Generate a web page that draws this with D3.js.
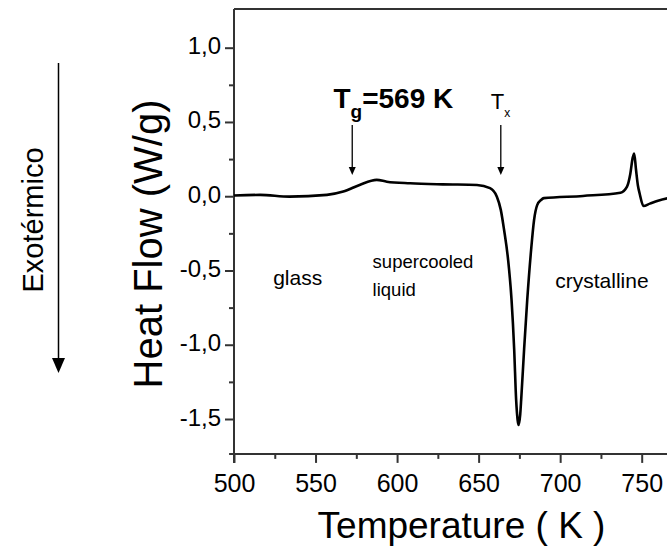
<!DOCTYPE html>
<html>
<head>
<meta charset="utf-8">
<script src="https://cdn.jsdelivr.net/npm/d3@7"></script>
<style>
  html, body { margin: 0; padding: 0; background: #fff; }
  svg { display: block; font-family: "Liberation Sans", Arial, sans-serif; }
</style>
</head>
<body>
<svg id="chart" width="667" height="548"></svg>
<script>
// ---- data ----
const temps = [500, 516, 534, 557, 567, 577, 587.5, 593.7, 608, 628, 649, 657, 661.2, 663.6, 665.6, 668.1, 670.2, 671.8, 673.0, 673.9, 674.5, 675.5, 676.1, 677.9, 679.8, 682.2, 684.0, 685.9, 688.3, 690, 714, 737, 741, 743, 744.5, 745.4, 746.5, 747.7, 748.7, 751.1, 755, 760, 766, 770];
const heatFlow = [0.005, 0.009, -0.003, 0.009, 0.031, 0.076, 0.11, 0.098, 0.087, 0.08, 0.076, 0.054, -0.003, -0.092, -0.226, -0.43, -0.70, -1.03, -1.37, -1.505, -1.54, -1.47, -1.37, -1.03, -0.70, -0.36, -0.16, -0.06, -0.025, -0.013, 0.002, 0.024, 0.065, 0.15, 0.26, 0.288, 0.18, 0.07, 0.02, -0.066, -0.05, -0.03, -0.013, -0.005];
const xMajorTicks = [500, 550, 600, 650, 700, 750];
const xMinorTicks = [525, 575, 625, 675, 725, 775];
const yMajorTicks = [1.0, 0.5, 0.0, -0.5, -1.0, -1.5];
const yMinorTicks = [0.75, 0.25, -0.25, -0.75, -1.25];
const regionLabels = [
  { lines: ["glass"], T: 524, v: -0.6, size: 21 },
  { lines: ["supercooled", "liquid"], T: 585, v: -0.48, size: 18.5 },
  { lines: ["crystalline"], T: 697, v: -0.62, size: 21 }
];
const arrowsT = [572.5, 663.6];

// ---- scales ----
const svg = d3.select("#chart");
const x = d3.scaleLinear().domain([500, 750]).range([234, 641.7]);
const y = d3.scaleLinear().domain([1.0, -1.5]).range([47.7, 419]);
const xMax = 780, yTop = 1.26, yBot = -1.735;

const fmt = v => d3.format(".1f")(v).replace("−", "-").replace(".", ",");

svg.append("rect").attr("width", 667).attr("height", 548).attr("fill", "#fff");

// frame (top border; right border lies beyond the picture)
svg.append("path")
  .attr("d", `M${x(500)},${y(yTop)} H${x(xMax)} V${y(yBot)}`)
  .attr("fill", "none").attr("stroke", "#333").attr("stroke-width", 2);

// x axis
const gx = svg.append("g").attr("transform", `translate(0,${y(yBot)})`);
gx.call(d3.axisBottom(x).tickValues(xMajorTicks).tickSize(9).tickSizeOuter(0).tickPadding(11).tickFormat(d3.format("d")));
gx.append("g").call(d3.axisBottom(x).tickValues(xMinorTicks).tickSize(5).tickFormat(""))
  .select(".domain").remove();
gx.select(".domain").attr("d", `M${x(497)},0H${x(xMax)}`);
gx.selectAll("line").attr("stroke", "#333").attr("stroke-width", 2);
gx.selectAll(".domain").attr("stroke", "#333").attr("stroke-width", 2);
gx.selectAll("text").attr("font-size", 25).attr("fill", "#000").attr("font-family", "Liberation Sans, Arial, sans-serif");

// y axis
const gy = svg.append("g").attr("transform", `translate(${x(500)},0)`);
gy.call(d3.axisLeft(y).tickValues(yMajorTicks).tickSize(9).tickSizeOuter(0).tickPadding(4).tickFormat(fmt));
gy.append("g").call(d3.axisLeft(y).tickValues(yMinorTicks).tickSize(5).tickFormat(""))
  .select(".domain").remove();
gy.select(".domain").attr("d", `M0,${y(yTop)}V${y(yBot) + 9}`);
gy.selectAll("line").attr("stroke", "#333").attr("stroke-width", 2);
gy.selectAll(".domain").attr("stroke", "#333").attr("stroke-width", 2);
gy.selectAll("text").attr("font-size", 24).attr("fill", "#000").attr("dy", "0.25em")
  .attr("font-family", "Liberation Sans, Arial, sans-serif");

// curve
svg.append("defs").append("clipPath").attr("id", "clip")
  .append("rect").attr("x", x(500)).attr("y", y(yTop)).attr("width", x(xMax) - x(500)).attr("height", y(yBot) - y(yTop));
const line = d3.line().x((d, i) => x(temps[i])).y((d, i) => y(heatFlow[i])).curve(d3.curveMonotoneX);
svg.append("path").datum(heatFlow).attr("clip-path", "url(#clip)")
  .attr("d", line).attr("fill", "none").attr("stroke", "#000").attr("stroke-width", 2.6).attr("stroke-linejoin", "round");

// annotation arrows (Tg, Tx)
arrowsT.forEach(T => {
  const xx = x(T), y0 = y(0.48), y1 = y(0.143);
  svg.append("line").attr("x1", xx).attr("x2", xx).attr("y1", y0).attr("y2", y1 - 7)
    .attr("stroke", "#000").attr("stroke-width", 1.3);
  svg.append("path").attr("d", `M${xx - 3.5},${y1 - 8}L${xx + 3.5},${y1 - 8}L${xx},${y1}Z`).attr("fill", "#000");
});

// Tg label
const tg = svg.append("text").attr("x", x(561)).attr("y", y(0.595))
  .attr("font-size", 28).attr("font-weight", "bold").attr("fill", "#000");
tg.append("tspan").text("T");
tg.append("tspan").attr("font-size", 19).attr("dy", 10).text("g");
tg.append("tspan").attr("dy", -10).text("=569 K");

// Tx label
const tx = svg.append("text").attr("x", x(657.5)).attr("y", y(0.585)).attr("font-size", 22).attr("fill", "#000");
tx.append("tspan").text("T");
tx.append("tspan").attr("font-size", 12).attr("dy", 8).text("x");

// region labels
regionLabels.forEach(r => {
  const t = svg.append("text").attr("x", x(r.T)).attr("y", y(r.v)).attr("font-size", r.size).attr("fill", "#000");
  r.lines.forEach((s, i) => t.append("tspan").attr("x", x(r.T)).attr("dy", i === 0 ? 0 : 28).text(s));
});

// axis titles
svg.append("text").attr("x", 461.5).attr("y", 538)
  .attr("text-anchor", "middle").attr("font-size", 37).attr("fill", "#000").text("Temperature ( K )");
svg.append("text").attr("transform", "translate(162,244) rotate(-90)")
  .attr("text-anchor", "middle").attr("font-size", 40).attr("fill", "#000").text("Heat Flow (W/g)");

// Exotérmico with downward arrow
svg.append("text").attr("transform", "translate(43,220) rotate(-90)")
  .attr("text-anchor", "middle").attr("font-size", 29).attr("fill", "#000").text("Exotérmico");
svg.append("line").attr("x1", 58.5).attr("x2", 58.5).attr("y1", 63).attr("y2", 360)
  .attr("stroke", "#000").attr("stroke-width", 1.5);
svg.append("path").attr("d", "M52,358L65,358L58.5,373Z").attr("fill", "#000");
</script>
</body>
</html>
